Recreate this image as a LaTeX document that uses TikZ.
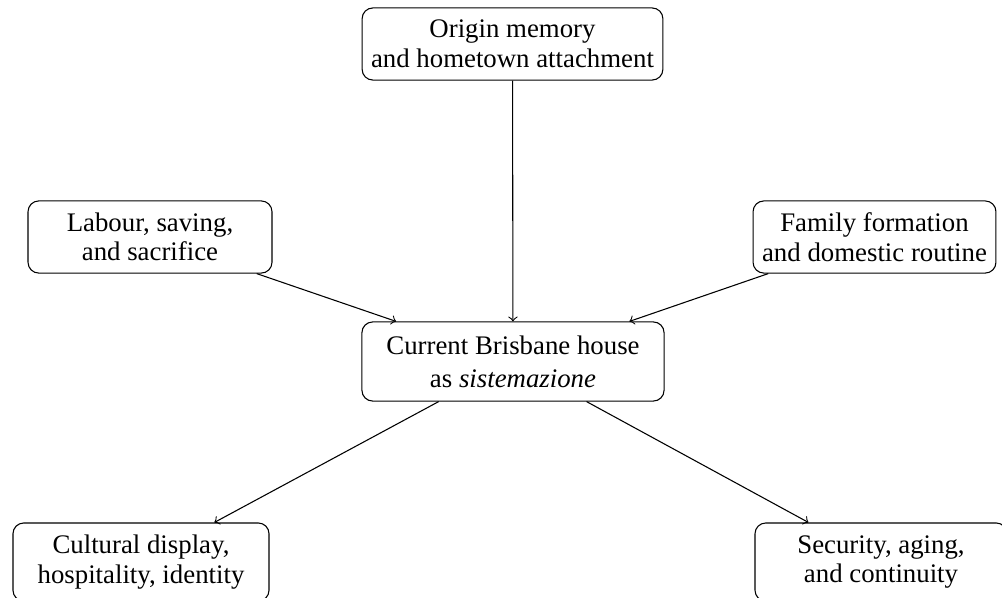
\documentclass[tikz,border=0pt]{standalone}
\usepackage{fontspec}
\setmainfont{Liberation Serif}
\begin{document}
\begin{tikzpicture}[x=0.373pt,y=-0.373pt,
  box/.style={draw, rounded corners=4pt, align=center, inner sep=3.33pt,
    font={\fontsize{10}{11}\selectfont}},
  conn/.style={->, line width=0.4pt}]
\useasboundingbox (0,0) rectangle (1002,597);
\node[box, minimum width=111.5pt, minimum height=26.9pt] (origin) at (512.5,44) {Origin memory\\and hometown attachment};
\node[box, minimum width=91pt, minimum height=26.9pt] (labour) at (150,237) {Labour, saving,\\and sacrifice};
\node[box, minimum width=90.6pt, minimum height=26.9pt] (family) at (874.5,237) {Family formation\\and domestic routine};
\node[box, minimum width=112.7pt, minimum height=29.5pt, font={\fontsize{10}{12.3}\selectfont}] (house) at (513,361.5) {Current Brisbane house\\as \textit{sistemazione}};
\node[box, minimum width=95.5pt, minimum height=29.1pt] (cultural) at (141,562) {Cultural display,\\hospitality, identity};
\node[box, minimum width=94pt, minimum height=29.1pt] (security) at (881,562) {Security, aging,\\and continuity};
\draw[conn] (origin) -- (house);
\draw[conn] (labour) -- (house);
\draw[conn] (family) -- (house);
\draw[conn] (house) -- (cultural);
\draw[conn] (house) -- (security);
\end{tikzpicture}
\end{document}
